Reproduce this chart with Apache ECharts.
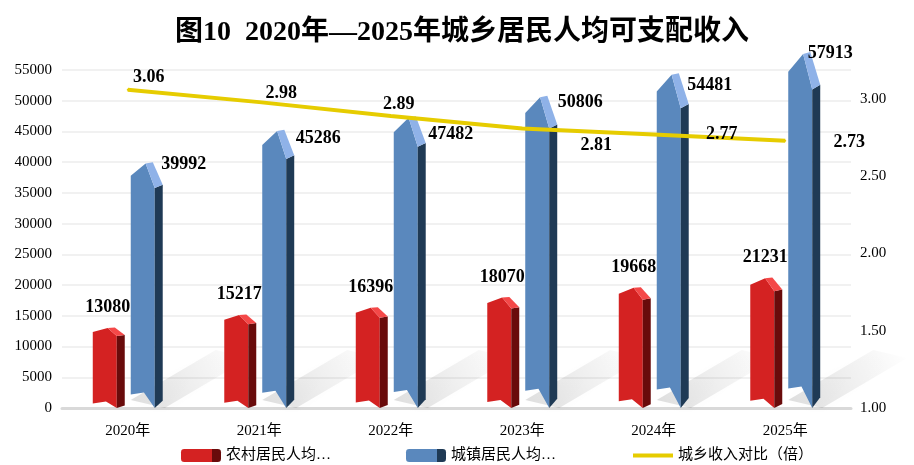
<!DOCTYPE html>
<html>
<head>
<meta charset="utf-8">
<title>城乡居民人均可支配收入</title>
<script src="https://cdn.jsdelivr.net/npm/echarts@6/dist/echarts.min.js"></script>
<style>
  html, body { margin: 0; padding: 0; background: #fff; }
  #main { width: 914px; height: 465px; }
</style>
</head>
<body>
<div id="main"></div>
<script>
    // data
    var years = ['2020年', '2021年', '2022年', '2023年', '2024年', '2025年'];
    var rural = [13080, 15217, 16396, 18070, 19668, 21231];
    var urban = [39992, 45286, 47482, 50806, 54481, 57913];
    var ratio = [3.06, 2.98, 2.89, 2.81, 2.77, 2.73];
    var seriesNames = ['农村居民人均…', '城镇居民人均…', '城乡收入对比（倍）'];

    // label placement (pixels), as moved by hand in the original
    var urbanLabelShift = [[56, 2], [59, 9], [60, 18], [58, 7], [56, 12], [45, 1]];
    var ratioLabelShift = [[21, -12], [22, -9], [8, -12], [74, 17], [68, 0], [64, 2]];

    var serif = '"Liberation Serif", "Noto Sans CJK SC", serif';
    var labelFont = 'bold 18px "Liberation Serif", serif';

    var palette = {
        rural: { front: '#d42222', top: '#f44848', side: '#690b0b' },
        urban: { front: '#5a88bd', top: '#8fb2e8', side: '#1f3a55' }
    };

    function legendFill(c) {
        return new echarts.graphic.LinearGradient(0, 0, 1, 0, [
            { offset: 0, color: c.front }, { offset: 0.78, color: c.front },
            { offset: 0.78, color: c.side }, { offset: 1, color: c.side }
        ]);
    }

    function barRenderer(kind) {
        var c = palette[kind];
        return function (params, api) {
            var i = api.value(0);
            var v = api.value(1);
            var top = api.coord([i, v]);
            var base = api.coord([i, 0]);
            var s = api.size([1, 0])[0] / 131.6;
            var cx = top[0], yv = top[1], y0 = base[1], h = y0 - yv;
            var x0 = cx + (kind === 'rural' ? -35 : 3) * s;
            var w = 24 * s, x1 = x0 + w, x2 = x1 + 8 * s;

            var P = [x0 + 0.62 * w, yv + 0.005 * h];
            var P2 = [x0 + 0.92 * w, yv];
            var FL = [x0, yv + 0.055 * h];
            var FR = [x1, yv + 0.105 * h];
            var BR = [x2, yv + 0.092 * h];
            var botL = [x0, y0 - 0.055 * h];
            var notch = [x0 + 0.55 * w, y0 - 0.055 * h - 2];
            var botR = [x1, y0];
            var sideBot = [x2, y0 - 0.03 * h];

            var children = [
                { type: 'polygon', shape: { points: [FL, P, FR, botR, notch, botL] }, style: { fill: c.front } },
                { type: 'polygon', shape: { points: [FR, BR, sideBot, botR] }, style: { fill: c.side } },
                { type: 'polygon', shape: { points: [P, P2, BR, FR] }, style: { fill: c.top } }
            ];

            var tx, ty;
            if (kind === 'rural') {
                tx = x0 + 0.62 * w;
                ty = yv - 20;
            } else {
                tx = cx + urbanLabelShift[i][0] * s;
                ty = yv + urbanLabelShift[i][1];
            }
            children.push({
                type: 'text',
                x: tx, y: ty,
                style: {
                    text: String(v), font: labelFont, fill: '#000',
                    align: 'center', verticalAlign: 'middle',
                    textAlign: 'center', textVerticalAlign: 'middle'
                }
            });
            return { type: 'group', children: children };
        };
    }

    function shadowRenderer(params, api) {
        var i = api.value(0);
        var v = api.value(1);
        var top = api.coord([i, v]);
        var base = api.coord([i, 0]);
        var s = api.size([1, 0])[0] / 131.6;
        var cx = top[0], y0 = base[1];
        var x0 = cx + 3 * s, x2 = cx + 37 * s;
        var dx = 85 * s, dy = -50 * s;
        var pts = [[x0, y0 - 8], [x2, y0], [x2 + dx, y0 + dy], [x0 + dx, y0 - 8 + dy]];
        return {
            type: 'polygon',
            shape: { points: pts },
            style: {
                fill: new echarts.graphic.LinearGradient(0, 1, 1, 0, [
                    { offset: 0, color: 'rgba(0,0,0,0.13)' },
                    { offset: 0.5, color: 'rgba(0,0,0,0.06)' },
                    { offset: 1, color: 'rgba(0,0,0,0)' }
                ]),
                shadowBlur: 14,
                shadowColor: 'rgba(0,0,0,0.10)'
            },
            silent: true
        };
    }

    var myChart = echarts.init(document.getElementById('main'));
    var option = {
        backgroundColor: '#ffffff',
        animation: false,
        title: {
            text: '图10  2020年—2025年城乡居民人均可支配收入',
            left: 170,
            top: 14,
            textStyle: {
                color: '#000',
                fontSize: 28,
                fontWeight: 'bold',
                fontFamily: serif
            }
        },
        legend: {
            data: [
                { name: seriesNames[0] },
                { name: seriesNames[1] },
                { name: seriesNames[2], itemStyle: { opacity: 0 }, lineStyle: { width: 4, color: '#e6cc00' } }
            ],
            left: 176,
            top: 443,
            itemWidth: 40,
            itemHeight: 13,
            itemGap: 75,
            textStyle: { color: '#000', fontSize: 15, fontFamily: serif }
        },
        grid: { left: 62, right: 63, top: 70, bottom: 57 },
        xAxis: {
            type: 'category',
            data: years,
            axisTick: { show: false },
            axisLine: { lineStyle: { color: '#d9d9d9', width: 3 } },
            axisLabel: { color: '#000', fontSize: 15, margin: 16, fontFamily: serif }
        },
        yAxis: [{
            type: 'value',
            min: 0,
            max: 55000,
            interval: 5000,
            axisLine: { show: false },
            axisTick: { show: false },
            splitLine: { lineStyle: { color: '#ececec', width: 1.5 } },
            axisLabel: {
                color: '#000', fontSize: 15, margin: 10, fontFamily: serif,
                formatter: function (val) { return String(val); }
            }
        }, {
            type: 'value',
            min: 1,
            max: 3.188,
            interval: 0.5,
            axisLine: { show: false },
            axisTick: { show: false },
            splitLine: { show: false },
            axisLabel: {
                color: '#000', fontSize: 15, margin: 9, fontFamily: serif,
                showMaxLabel: false,
                formatter: function (val) { return val.toFixed(2); }
            }
        }],
        series: [{
            name: 'shadow',
            type: 'custom',
            z: 1,
            silent: true,
            renderItem: shadowRenderer,
            data: urban.map(function (v, i) { return [i, v]; })
        }, {
            name: seriesNames[0],
            type: 'custom',
            z: 2,
            itemStyle: { color: legendFill(palette.rural) },
            renderItem: barRenderer('rural'),
            data: rural.map(function (v, i) { return [i, v]; })
        }, {
            name: seriesNames[1],
            type: 'custom',
            z: 2,
            itemStyle: { color: legendFill(palette.urban) },
            renderItem: barRenderer('urban'),
            data: urban.map(function (v, i) { return [i, v]; })
        }, {
            name: seriesNames[2],
            type: 'line',
            yAxisIndex: 1,
            z: 3,
            symbol: 'circle',
            symbolSize: 2,
            itemStyle: { color: '#e6cc00' },
            lineStyle: { color: '#e6cc00', width: 4 },
            label: {
                show: true,
                position: 'inside',
                color: '#000',
                fontSize: 18,
                fontWeight: 'bold',
                fontFamily: '"Liberation Serif", serif',
                formatter: function (p) { return p.value.toFixed(2); }
            },
            data: ratio.map(function (v, i) {
                return { value: v, label: { offset: ratioLabelShift[i] } };
            })
        }]
    };
    myChart.setOption(option);

    window.addEventListener('resize', function () {
        myChart.resize();
    });
</script>
</body>
</html>
